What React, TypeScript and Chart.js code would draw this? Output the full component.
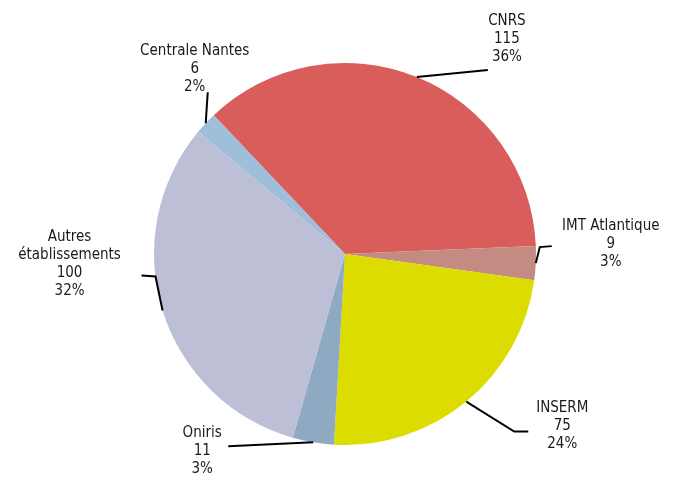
import React, { useEffect, useRef } from "react";
import { Chart, registerables } from "chart.js";

Chart.register(...registerables);

const categories = ["CNRS", "IMT Atlantique", "INSERM", "Oniris", "Autres\nétablissements", "Centrale Nantes"];
const values = [115, 9, 75, 11, 100, 6];
const percents = ["36%", "3%", "24%", "3%", "32%", "2%"];
const colors = ["#D95E5B", "#C48B83", "#DCDC00", "#8EAAC2", "#BCBFD5", "#9EBEDA"];

// leader line offsets relative to the slice's outer mid point, and label centre offsets
const leaders: number[][][] = [
  [[0, 0], [71, -7]],
  [[0, 0], [4, -16], [16, -17]],
  [[0, 0], [48, 30], [62, 30]],
  [[0, 0], [-85, 4]],
  [[0, 0], [-7, -34], [-21, -35]],
  [[0, 0], [2, -31]],
];
const labelPos: number[][] = [
  [90, -38],
  [75, -19],
  [96, 25],
  [-111, 9],
  [-93, -46],
  [-11, -54],
];

const labelPlugin = {
  id: "leaderLabels",
  afterDatasetsDraw(chart: any) {
    const ctx = chart.ctx;
    const meta = chart.getDatasetMeta(0);
    meta.data.forEach((arc: any, i: number) => {
      const { x, y, startAngle, endAngle, outerRadius } = arc.getProps(
        ["x", "y", "startAngle", "endAngle", "outerRadius"],
        true
      );
      const mid = (startAngle + endAngle) / 2;
      const ax = x + Math.cos(mid) * outerRadius;
      const ay = y + Math.sin(mid) * outerRadius;
      ctx.save();
      ctx.strokeStyle = "#000";
      ctx.lineWidth = 2;
      ctx.beginPath();
      leaders[i].forEach((p, k) => {
        if (k === 0) ctx.moveTo(ax + p[0], ay + p[1]);
        else ctx.lineTo(ax + p[0], ay + p[1]);
      });
      ctx.stroke();
      const lines = [...categories[i].split("\n"), String(values[i]), percents[i]];
      ctx.fillStyle = "#1a1a1a";
      ctx.font = '15px "DejaVu Sans Condensed", "DejaVu Sans", sans-serif';
      ctx.textAlign = "center";
      ctx.textBaseline = "middle";
      const cx = ax + labelPos[i][0];
      const cy = ay + labelPos[i][1];
      const lh = 18;
      const top = cy - ((lines.length - 1) * lh) / 2;
      lines.forEach((t, k) => ctx.fillText(t, cx, top + k * lh));
      ctx.restore();
    });
  },
};

export default function App() {
  const ref = useRef<HTMLCanvasElement>(null);
  useEffect(() => {
    if (!ref.current) return;
    const chart = new Chart(ref.current, {
      type: "pie",
      data: {
        labels: categories,
        datasets: [
          {
            data: values,
            backgroundColor: colors,
            borderWidth: 0,
          },
        ],
      },
      options: {
        responsive: false,
        animation: false,
        rotation: -43.4,
        layout: { padding: { top: 63, bottom: 49, left: 149, right: 137 } },
        plugins: { legend: { display: false }, tooltip: { enabled: false } },
      },
      plugins: [labelPlugin],
    });
    return () => chart.destroy();
  }, []);
  return (
    <div style={{ position: "fixed", left: 0, top: 0, width: 678, height: 494, background: "#fff" }}>
      <canvas ref={ref} width={678} height={494} />
    </div>
  );
}
